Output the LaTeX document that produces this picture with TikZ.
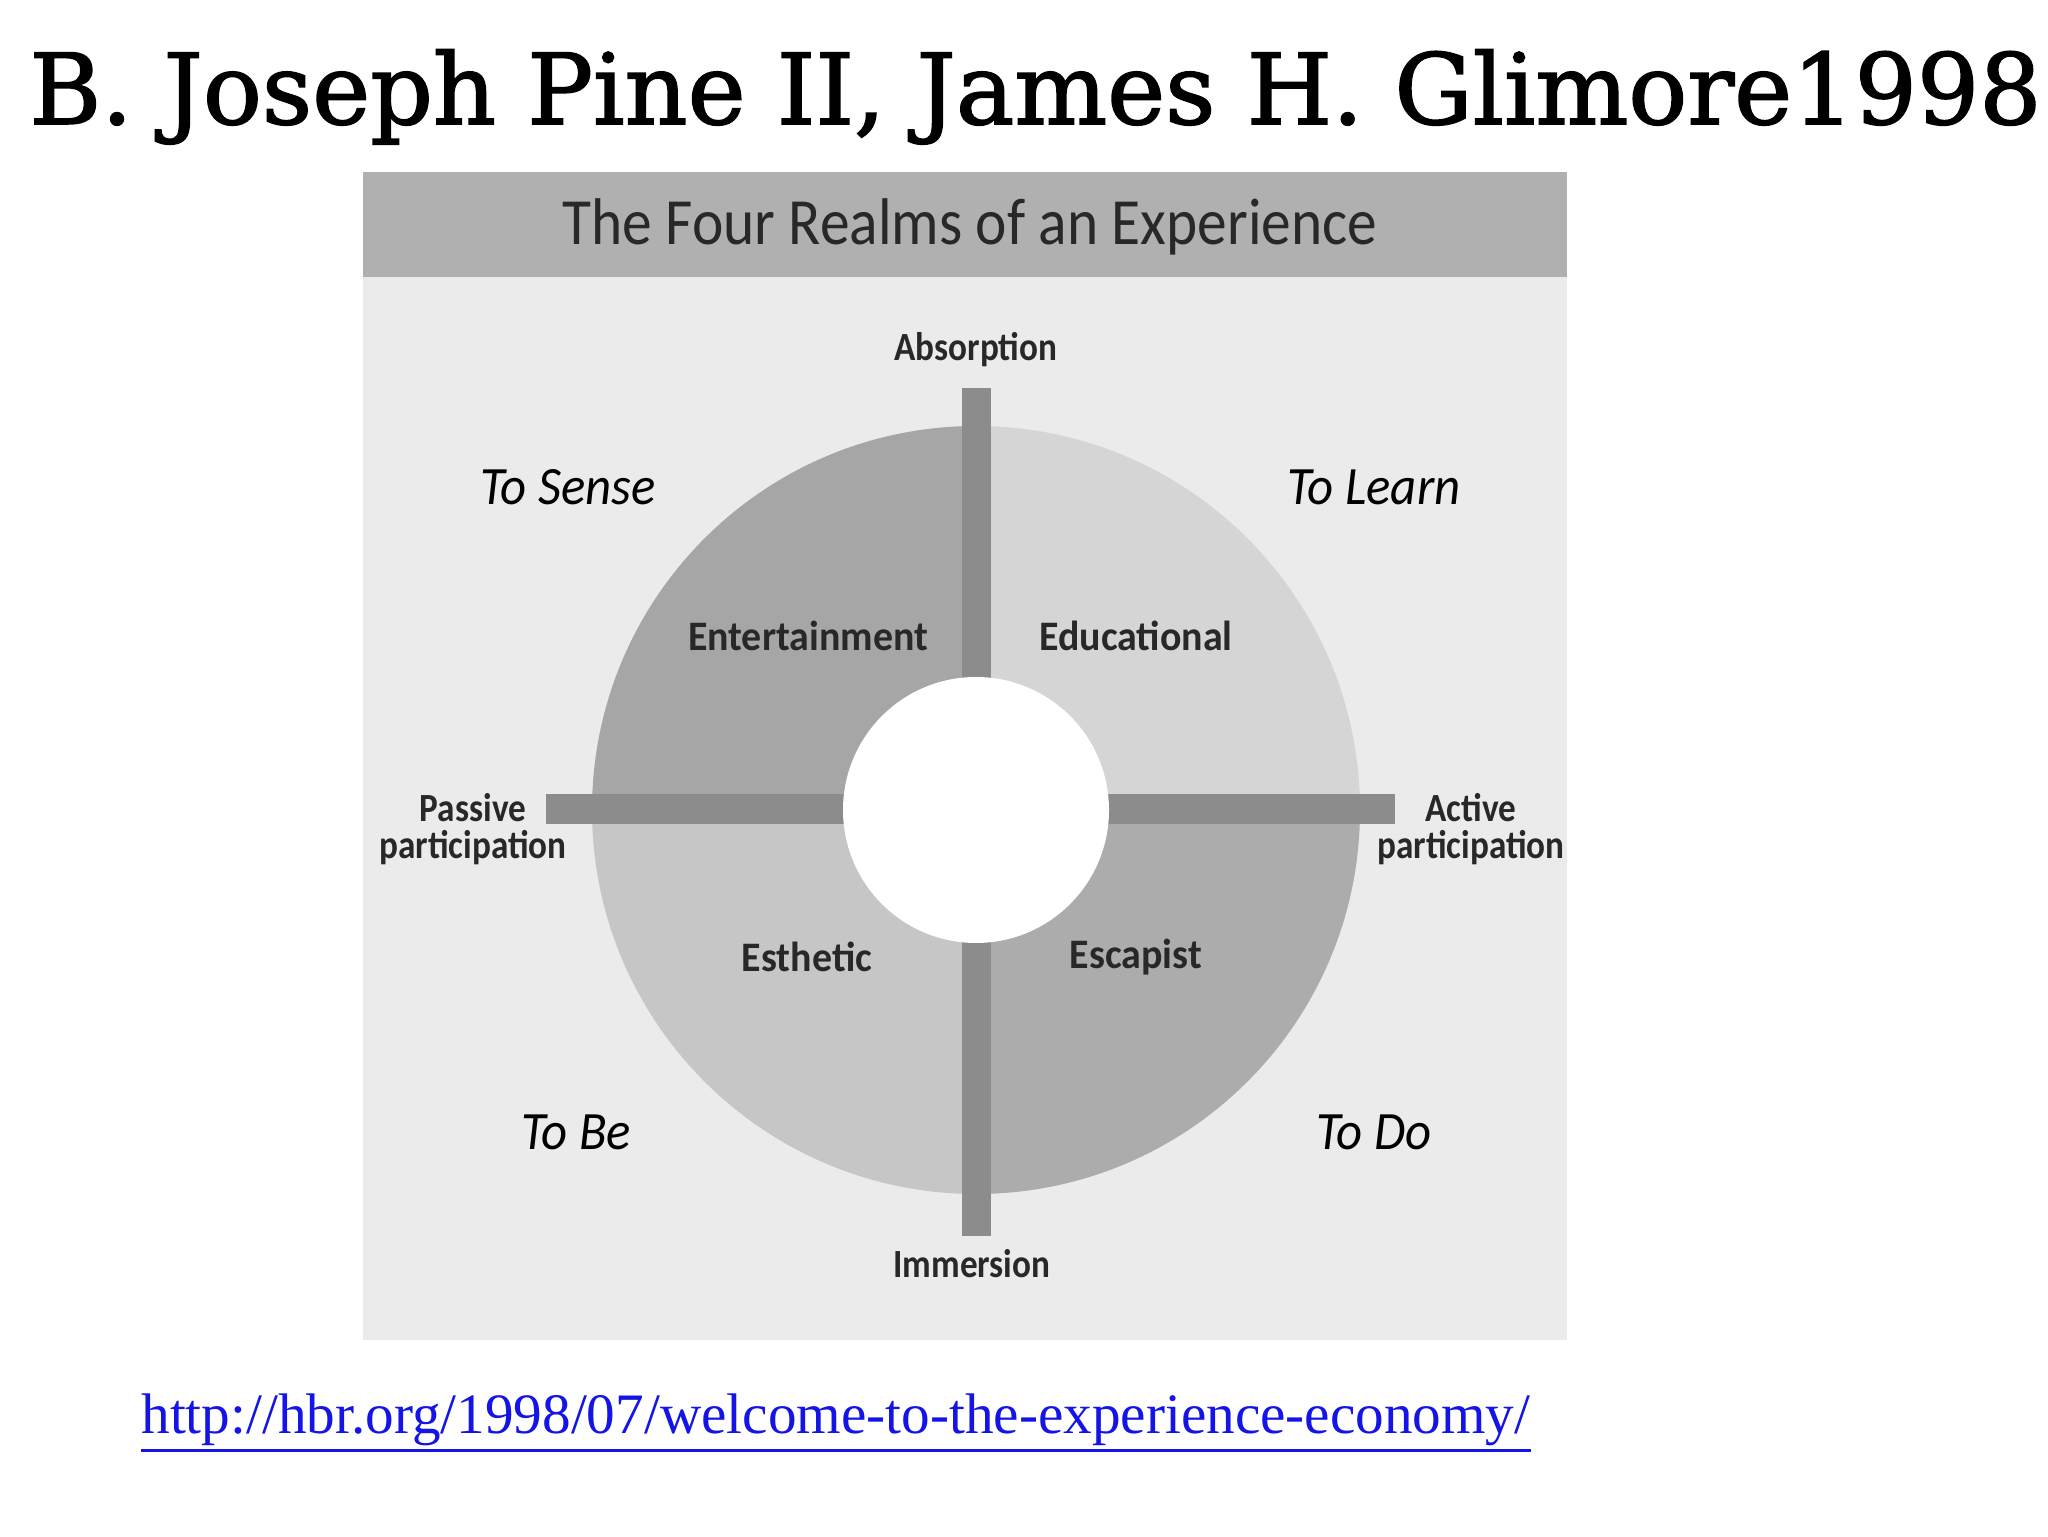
\documentclass[tikz,border=0pt]{standalone}
\usepackage{fontspec}
\usepackage{xcolor}
\usepackage{tikz}
\setmainfont{Carlito}
\newfontfamily\headfont[FakeStretch=0.9]{Carlito}
\newfontfamily\axisfont[FakeStretch=0.88]{Carlito}
\newfontfamily\realmfont[FakeStretch=0.95]{Carlito}
\newfontfamily\verbfont[FakeStretch=0.94]{Carlito}
\newfontfamily\slabfont[FakeBold=1.6]{DejaVu Serif}
\newfontfamily\linkfont{Liberation Serif}
\definecolor{realmback}{RGB}{235, 235, 235}
\definecolor{realmband}{RGB}{176, 176, 176}
\definecolor{realmbar}{RGB}{140, 140, 140}
\definecolor{realmtl}{RGB}{166, 166, 166}
\definecolor{realmtr}{RGB}{213, 213, 213}
\definecolor{realmbl}{RGB}{198, 198, 198}
\definecolor{realmbr}{RGB}{172, 172, 172}
\definecolor{realmtext}{RGB}{40, 40, 40}
\definecolor{linkblue}{RGB}{20, 20, 230}

\begin{document}
\begin{tikzpicture}[x=0.5pt, y=0.5pt,
    axislabel/.style={inner sep=0pt, align=center, text=realmtext,
      font=\axisfont\bfseries\fontsize{20}{18.5}\selectfont},
    realmlabel/.style={inner sep=0pt, text=realmtext,
      font=\realmfont\bfseries\fontsize{21}{24}\selectfont},
    verblabel/.style={inner sep=0pt, text=black,
      font=\verbfont\itshape\fontsize{27}{30}\selectfont}]
    \useasboundingbox (0,0) rectangle (2048,1536);
    \fill[white] (0,0) rectangle (2048,1536);

    % Slide title
    \node[anchor=base west, inner sep=0pt, font=\slabfont\fontsize{49}{56}\selectfont] (title) at (29,1412) {B. Joseph Pine II, James H. Glimore1998};

    % Figure panel and header band
    \fill[realmback] (363,196) rectangle (1567,1364);
    \fill[realmband] (363,1259) rectangle (1567,1364);
    \node[inner sep=0pt, text=realmtext, font=\headfont\fontsize{33}{36}\selectfont] (header) at (970,1309) {The Four Realms of an Experience};

    % Four realms
    \coordinate (hub) at (976,726);
    \fill[realmtl] (hub) -- ++(180:192pt) arc[start angle=180, end angle=90, radius=192pt] -- cycle;
    \fill[realmtr] (hub) -- ++(90:192pt) arc[start angle=90, end angle=0, radius=192pt] -- cycle;
    \fill[realmbr] (hub) -- ++(0:192pt) arc[start angle=0, end angle=-90, radius=192pt] -- cycle;
    \fill[realmbl] (hub) -- ++(-90:192pt) arc[start angle=-90, end angle=-180, radius=192pt] -- cycle;

    % Axes
    \fill[realmbar] (962,300) rectangle (991,1148);
    \fill[realmbar] (546,712) rectangle (1395,742);
    \fill[white] (hub) circle[radius=66.5pt];

    % Axis labels
    \node[axislabel] (absorb) at (976,1186) {Absorption};
    \node[axislabel] (immerse) at (972,272) {Immersion};
    \node[axislabel] (passive) at (473,707) {Passive\\participation};
    \node[axislabel] (active) at (1471,707) {Active\\participation};

    % Realm names
    \node[realmlabel] (enter) at (808,900) {Entertainment};
    \node[realmlabel] (educ) at (1136,900) {Educational};
    \node[realmlabel] (esth) at (807,579) {Esthetic};
    \node[realmlabel] (escap) at (1136,579) {Escapist};

    % Verbs
    \node[verblabel] (sense) at (568,1049) {To Sense};
    \node[verblabel] (learn) at (1374,1049) {To Learn};
    \node[verblabel] (tobe) at (576,404) {To Be};
    \node[verblabel] (todo) at (1374,404) {To Do};

    % Source link
    \node[anchor=west, inner sep=0pt, text=linkblue, font=\linkfont\fontsize{28.6}{32}\selectfont] (link) at (141,116) {http://hbr.org/1998/07/welcome-to-the-experience-economy/};
    \draw[linkblue, line width=1.5pt] ([yshift=-2pt]link.south west) -- ([yshift=-2pt]link.south east);
\end{tikzpicture}
\end{document}
